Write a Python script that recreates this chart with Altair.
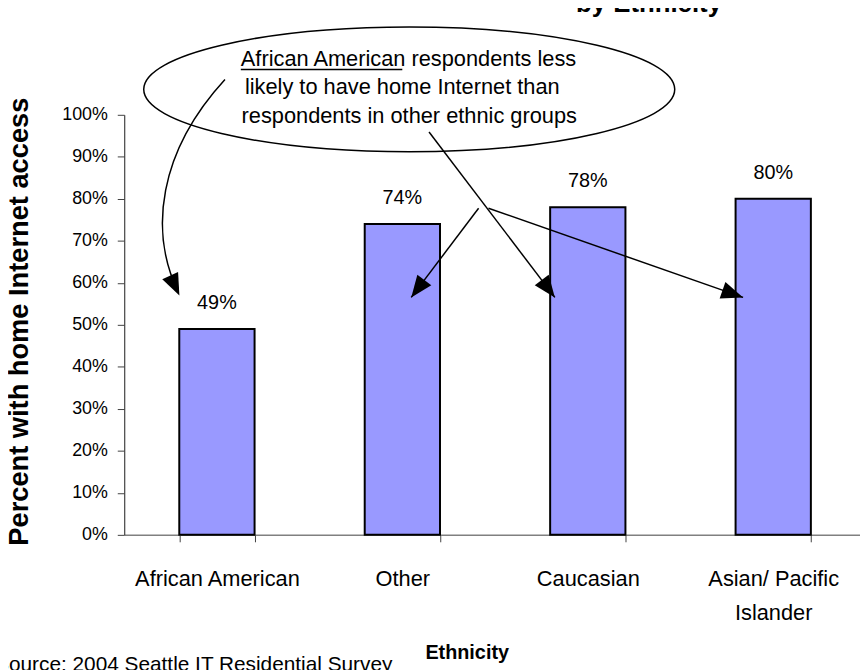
import altair as alt
import pandas as pd

# ---- data ----
categories = ["African American", "Other", "Caucasian", "Asian/ Pacific Islander"]
values = [0.49, 0.74, 0.78, 0.80]
value_labels = ["49%", "74%", "78%", "80%"]
y_ticks = [0, 0.1, 0.2, 0.3, 0.4, 0.5, 0.6, 0.7, 0.8, 0.9, 1.0]

title_lines = ["Home Internet Access", "by Ethnicity"]
y_title = "Percent with home Internet access"
x_title = "Ethnicity"
note_lines = ["African American respondents less",
              "likely to have home Internet than",
              "respondents in other ethnic groups"]
source_text = "Source: 2004 Seattle IT Residential Survey"

df = pd.DataFrame({"Ethnicity": categories, "Share": values, "Label": value_labels})

SANS = "Liberation Sans, Arial, Helvetica"

W, H = 748.7, 424
OX, OY = 125.3, 112.7  # page position of the plot origin


def px(x):
    return x - OX


def py(y):
    return y - OY


x_enc = alt.X(
    "Ethnicity:N",
    sort=categories,
    scale=alt.Scale(paddingInner=0.594, paddingOuter=0.297),
    axis=alt.Axis(
        title=x_title,
        labelAngle=0,
        tickBand="extent",
        labelExpr="datum.label == 'Asian/ Pacific Islander' ? ['Asian/ Pacific', 'Islander'] : datum.label",
        labelFont=SANS, labelFontSize=22, labelColor="black",
        labelLineHeight=34, labelPadding=27, labelLimit=300,
        tickSize=7, tickColor="#404040", domainColor="#808080", domainWidth=1.5,
        titleFont=SANS, titleFontSize=20, titleFontWeight="bold", titleColor="black",
        titleX=px(471), titleY=662 - (OY + H), titleAlign="center", titleBaseline="alphabetic",
        grid=False,
    ),
)
y_enc = alt.Y(
    "Share:Q",
    scale=alt.Scale(domain=[0, 1]),
    axis=alt.Axis(
        title=y_title,
        values=y_ticks,
        format=".0%",
        labelFont=SANS, labelFontSize=18, labelColor="black", labelPadding=10,
        tickSize=7, tickColor="#404040", domainColor="#404040", domainWidth=1.2,
        titleFont=SANS, titleFontSize=27.5, titleFontWeight="bold", titleColor="black",
        titleX=px(20), titleY=py(321), titleAlign="center", titleBaseline="middle",
        grid=False,
    ),
)

base = alt.Chart(df)
bars = base.mark_bar(color="#9999FF", stroke="black", strokeWidth=2).encode(x=x_enc, y=y_enc)
bar_text = base.mark_text(dy=-20, baseline="alphabetic", font=SANS, fontSize=20, color="black").encode(
    x=alt.X("Ethnicity:N", sort=categories), y="Share:Q", text="Label:N")

one = pd.DataFrame({"k": [0]})
ann = alt.Chart(one)

# cropped title (only the bottom of its last line shows)
title_mark = ann.mark_text(text=title_lines, align="center", baseline="alphabetic", font=SANS,
                           fontSize=26, fontWeight="bold", color="black", lineHeight=30).encode(
    x=alt.value(px(655)), y=alt.value(py(9 - 30)))

# source line (cropped at left and bottom)
source_mark = ann.mark_text(text=source_text, align="right", baseline="alphabetic", font=SANS,
                            fontSize=21, color="black").encode(
    x=alt.value(px(396)), y=alt.value(py(674)))

# ellipse callout
k = 0.5523
b = 0.235
ell_path = (f"M -1 0 C -1 {-k*b} {-k} {-b} 0 {-b} C {k} {-b} 1 {-k*b} 1 0 "
            f"C 1 {k*b} {k} {b} 0 {b} C {-k} {b} -1 {k*b} -1 0 Z")
ellipse = ann.mark_point(shape=ell_path, size=536 ** 2, filled=False, stroke="black",
                         strokeWidth=1.5, opacity=1).encode(
    x=alt.value(px(413)), y=alt.value(py(87)))

note_layers = []
note_x = [243, 406, 413]
note_align = ["left", "center", "center"]
note_y = [63, 92, 121]
for t, xx, al, yy in zip(note_lines, note_x, note_align, note_y):
    note_layers.append(ann.mark_text(text=t, align=al, baseline="alphabetic", font=SANS,
                                     fontSize=22, color="black").encode(
        x=alt.value(px(xx)), y=alt.value(py(yy))))
underline = ann.mark_rule(stroke="black", strokeWidth=1.5).encode(
    x=alt.value(px(243)), x2=alt.value(px(406)), y=alt.value(py(67)), y2=alt.value(py(67)))

# curved arrow to African American bar (path in pixel offsets, size=4 -> unit = 1px)
curve = ann.mark_point(shape="M 0 0 C -67 73 -77 153 -47 215", size=4, filled=False,
                       stroke="black", strokeWidth=1.5, opacity=1).encode(
    x=alt.value(px(227)), y=alt.value(py(77)))

# straight arrows
arrow_lines = [((483, 207), (415, 297)), ((433, 130), (560, 297)), ((493, 207), (750, 297))]
rules = []
for (x1, y1), (x2, y2) in arrow_lines:
    rules.append(ann.mark_rule(stroke="black", strokeWidth=1.5).encode(
        x=alt.value(px(x1)), y=alt.value(py(y1)), x2=alt.value(px(x2)), y2=alt.value(py(y2))))

head_path = "M 0 0 L 0.4 1 L -0.4 1 Z"
heads_pos = [(181, 295, 155), (415, 297, 217), (560, 297, 142.9), (750, 297, 109.3)]
heads = []
for hx, hy, ang in heads_pos:
    heads.append(ann.mark_point(shape=head_path, size=44 ** 2, filled=True, color="black",
                                opacity=1, angle=ang).encode(
        x=alt.value(px(hx)), y=alt.value(py(hy))))

chart = alt.layer(
    bars, bar_text, title_mark, source_mark, ellipse, *note_layers, underline, curve, *rules, *heads
).properties(
    width=W, height=H,
    padding={"left": OX - 8, "top": OY - 8, "right": 860 - (OX - 8) - W, "bottom": 662 - (OY - 8) - H},
    autosize=alt.AutoSizeParams(type="none"),
    background="white",
).configure_view(stroke=None)

chart.save("out.html", embed_options={"renderer": "svg", "actions": False})
